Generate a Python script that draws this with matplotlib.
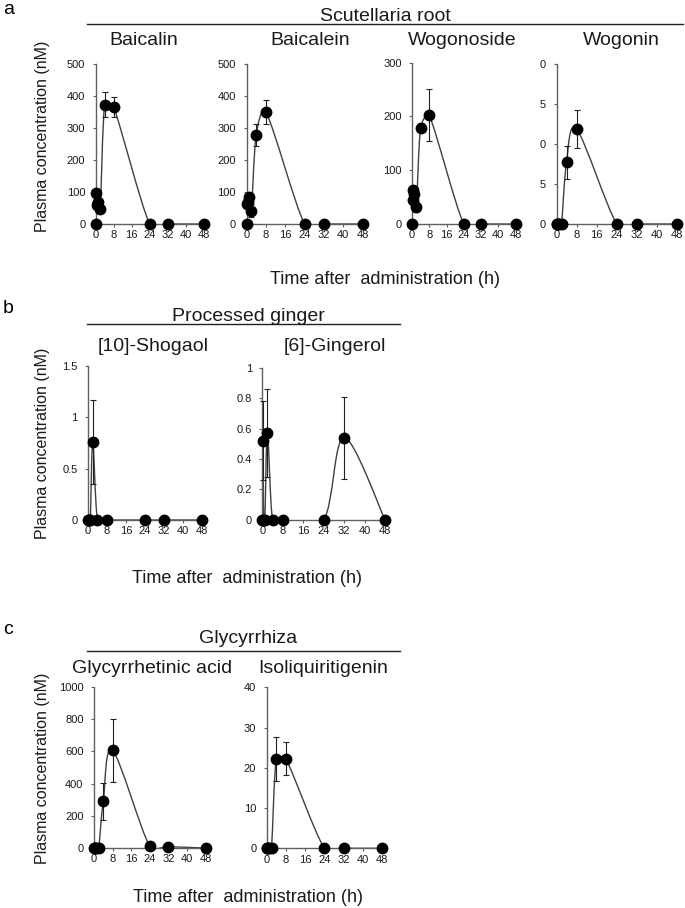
import numpy as np
import matplotlib
matplotlib.use("Agg")
import matplotlib.pyplot as plt
from matplotlib.path import Path
from matplotlib.patches import PathPatch
from matplotlib.lines import Line2D

plt.rcParams['font.family'] = ['Liberation Sans', 'DejaVu Sans']

# ---------------- data ----------------
time_h = [0, 0.25, 0.5, 1, 2, 4, 8, 24, 32, 48]

baicalin = [0, 97, 60, 70, 48, 373, 366, 0, 0, 0]
baicalin_err = [0, 5, 8, 8, 12, 38, 32, 0, 0, 0]
baicalein = [0, 62, 70, 83, 42, 278, 351, 0, 0, 0]
baicalein_err = [0, 8, 8, 10, 21, 35, 37, 0, 0, 0]
wogonoside = [0, 64, 44, 56, 32, 179, 202, 0, 0, 0]
wogonoside_err = [0, 5, 6, 8, 9, 8, 48, 0, 0, 0]
wogonin = [0, 0, 0, 0, 0, 7.7, 11.9, 0, 0, 0]
wogonin_err = [0, 0, 0, 0, 0, 2.05, 2.4, 0, 0, 0]

shogaol10 = [0, 0, 0, 0, 0.76, 0, 0, 0, 0, 0]
shogaol10_err = [0, 0, 0, 0, 0.41, 0, 0, 0, 0, 0]
gingerol6 = [0, 0.52, 0, 0, 0.57, 0, 0, 0, 0.54, 0]
gingerol6_err = [0, 0.26, 0, 0, 0.29, 0, 0, 0, 0.27, 0]

glycyrrhetinic = [0, 0, 0, 0, 0, 289, 606, 10, 8, 0]
glycyrrhetinic_err = [0, 0, 0, 0, 0, 112, 198, 0, 0, 0]
isoliquiritigenin = [0, 0, 0, 0, 0, 22.2, 22.2, 0, 0, 0]
isoliquiritigenin_err = [0, 0, 0, 0, 0, 5.5, 4.1, 0, 0, 0]

x_ticks = [0, 8, 16, 24, 32, 40, 48]

# ---------------- layout ----------------
W, H = 685, 908
fig = plt.figure(figsize=(W / 100, H / 100), dpi=100)

LINE_C = '#404040'
AX_C = '#606060'
TXT_C = '#1a1a1a'
XMAX = 49.0
TICK_FONT = ['Liberation Sans Narrow', 'Liberation Sans', 'DejaVu Sans']


def smooth_path(x, y, sx, sy, cap=0.35):
    """Catmull-Rom style smoothed line (pixel space), with control-point
    offsets limited to a fraction of the segment length."""
    P = np.column_stack([np.asarray(x, float) * sx, np.asarray(y, float) * sy])
    n = len(P)
    verts = [P[0]]
    codes = [Path.MOVETO]
    for i in range(n - 1):
        p0 = P[i - 1] if i > 0 else P[i]
        p1 = P[i]
        p2 = P[i + 1]
        p3 = P[i + 2] if i + 2 < n else P[i + 1]
        seg = np.hypot(*(p2 - p1))
        o1 = (p2 - p0) / 6.0
        o2 = (p3 - p1) / 6.0
        lim = cap * seg
        for o in (o1, o2):
            L = np.hypot(*o)
            if L > lim and L > 0:
                o *= lim / L
        verts += [p1 + o1, p2 - o2, p2]
        codes += [Path.CURVE4] * 3
    verts = np.array(verts)
    verts[:, 0] /= sx
    verts[:, 1] /= sy
    return Path(verts, codes)


def ftext(x, y, s, **kw):
    fig.text(x / W, 1 - y / H, s, **kw)


def hline(x0, x1, y):
    fig.add_artist(Line2D([x0 / W, x1 / W], [1 - y / H, 1 - y / H],
                          transform=fig.transFigure, color='#202020', lw=1.0))


def make_ax(L, R48, T, B, ymax, yticks, values, errs, title, tx, ty,
            yticklabels=None):
    w = (R48 - L) * XMAX / 48.0
    ax = fig.add_axes([L / W, 1 - B / H, w / W, (B - T) / H])
    ax.set_xlim(0, XMAX)
    ax.set_ylim(0, ymax)
    for s in ['top', 'right']:
        ax.spines[s].set_visible(False)
    for s in ['left', 'bottom']:
        ax.spines[s].set_color(AX_C)
        ax.spines[s].set_linewidth(1.0)
    ax.set_facecolor('none')
    ax.set_xticks(x_ticks)
    ax.set_xticklabels([str(v) for v in x_ticks], family=TICK_FONT)
    ax.set_yticks(yticks)
    if yticklabels is None:
        yticklabels = [('%g' % v) for v in yticks]
    ax.set_yticklabels(yticklabels, family=TICK_FONT)
    ax.tick_params(axis='both', direction='out', length=2.5, width=0.8,
                   color=AX_C, labelsize=8, labelcolor=TXT_C)
    ax.tick_params(axis='x', pad=2)
    ax.tick_params(axis='y', pad=5)
    sx = w / XMAX
    sy = (B - T) / ymax
    patch = PathPatch(smooth_path(time_h, values, sx, sy), facecolor='none',
                      edgecolor=LINE_C, lw=1.0, zorder=2)
    ax.add_patch(patch)
    t = np.asarray(time_h)
    v = np.asarray(values, float)
    e = np.asarray(errs, float)
    m = e > 0
    ax.errorbar(t[m], v[m], yerr=e[m], fmt='none', ecolor='#202020',
                elinewidth=0.8, capsize=2.5, capthick=0.8, zorder=3,
                clip_on=False)
    ax.plot(t, v, 'o', color='black', ms=7.5, zorder=4, clip_on=False)
    ftext(tx, ty, title, fontsize=14, ha='center', va='baseline', color=TXT_C)
    return ax


# ---- panel a ----
make_ax(95.7, 203.5, 64, 224, 500, [0, 100, 200, 300, 400, 500],
        baicalin, baicalin_err, 'Baicalin', 144, 45)
make_ax(246.5, 362.5, 64, 224, 500, [0, 100, 200, 300, 400, 500],
        baicalein, baicalein_err, 'Baicalein', 310, 45)
make_ax(412, 515.5, 62.5, 224, 300, [0, 100, 200, 300],
        wogonoside, wogonoside_err, 'Wogonoside', 462, 45)
make_ax(556.5, 677, 64, 224, 20, [0, 5, 10, 15, 20],
        wogonin, wogonin_err, 'Wogonin', 621, 45,
        yticklabels=['0', '5', '0', '5', '0'])

ftext(3, 14, 'a', fontsize=14, color='black')
ftext(385, 21, 'Scutellaria root', fontsize=14, ha='center', va='baseline', color=TXT_C)
hline(87, 683, 23.5)
ftext(385, 284, 'Time after  administration (h)', fontsize=13, ha='center',
      va='baseline', color=TXT_C)
ftext(43, 136, 'Plasma concentration (nM)', fontsize=11.5, rotation=90,
      ha='center', va='center', color=TXT_C)

# ---- panel b ----
make_ax(88, 201.7, 366, 520, 1.5, [0, 0.5, 1, 1.5],
        shogaol10, shogaol10_err, '[10]-Shogaol', 153, 351.5)
make_ax(262.3, 385, 368, 519.5, 1.0, [0, 0.2, 0.4, 0.6, 0.8, 1.0],
        gingerol6, gingerol6_err, '[6]-Gingerol', 335, 351.5)

ftext(3, 313, 'b', fontsize=14, color='black')
ftext(248, 321, 'Processed ginger', fontsize=14, ha='center', va='baseline', color=TXT_C)
hline(87, 400, 323.5)
ftext(247, 583, 'Time after  administration (h)', fontsize=13, ha='center',
      va='baseline', color=TXT_C)
ftext(43, 443, 'Plasma concentration (nM)', fontsize=11.5, rotation=90,
      ha='center', va='center', color=TXT_C)

# ---- panel c ----
make_ax(94, 205.5, 687, 848, 1000, [0, 200, 400, 600, 800, 1000],
        glycyrrhetinic, glycyrrhetinic_err, 'Glycyrrhetinic acid', 152.5, 673)
make_ax(266.7, 382, 687.3, 848.3, 40, [0, 10, 20, 30, 40],
        isoliquiritigenin, isoliquiritigenin_err, 'Isoliquiritigenin', 323, 673)

ftext(3, 634, 'c', fontsize=14, color='black')
ftext(248, 643, 'Glycyrrhiza', fontsize=14, ha='center', va='baseline', color=TXT_C)
hline(87, 400, 650.5)
ftext(248, 902, 'Time after  administration (h)', fontsize=13, ha='center',
      va='baseline', color=TXT_C)
ftext(43, 768, 'Plasma concentration (nM)', fontsize=11.5, rotation=90,
      ha='center', va='center', color=TXT_C)

fig.savefig('out.png', dpi=100, facecolor='white')
